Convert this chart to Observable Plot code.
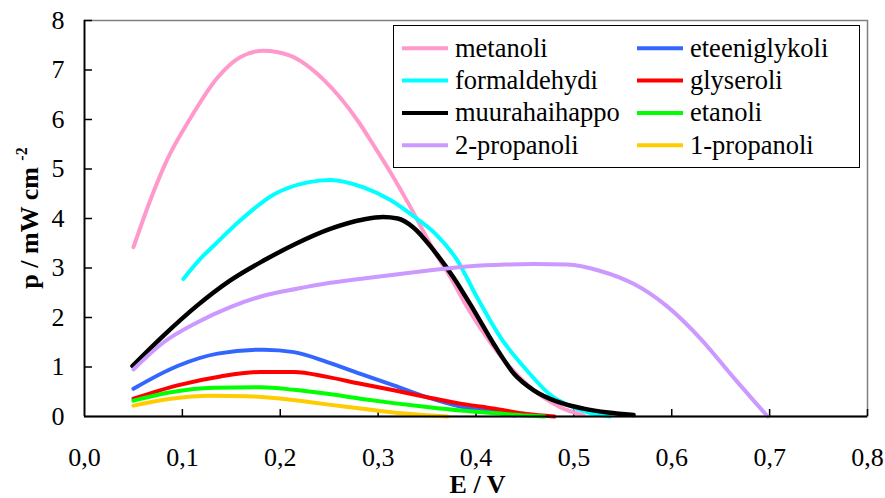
<!DOCTYPE html>
<html>
<head>
<meta charset="utf-8">
<script src="https://cdn.jsdelivr.net/npm/d3@7"></script>
<script src="https://cdn.jsdelivr.net/npm/@observablehq/plot@0.6"></script>
<style>
  html, body { margin: 0; padding: 0; background: #fff; }
  svg text { font-family: 'Liberation Serif', 'Times New Roman', serif; }
</style>
</head>
<body>
<div id="chart"></div>
<script>
// ---- data (E / V, p / mW cm-2) ----
const seriesNames = ["metanoli", "formaldehydi", "muurahaihappo", "2-propanoli",
                     "eteeniglykoli", "glyseroli", "etanoli", "1-propanoli"];
const seriesColors = ["#FF99CC", "#00FFFF", "#000000", "#CC99FF",
                      "#3366FF", "#FF0000", "#00FF00", "#FFCC00"];

const metanoli = [[0.050,3.42],[0.067,4.36],[0.084,5.17],[0.108,6.02],[0.136,6.85],[0.159,7.26],
  [0.183,7.39],[0.210,7.29],[0.245,6.79],[0.279,5.98],[0.296,5.46],[0.313,4.92],
  [0.333,4.23],[0.357,3.35],[0.374,2.81],[0.391,2.21],[0.411,1.60],[0.432,1.06],[0.459,0.53],
  [0.486,0.19],[0.510,0.02]];
const formaldehydi = [[0.101,2.78],[0.119,3.20],[0.132,3.45],[0.159,3.96],[0.193,4.48],[0.228,4.73],
  [0.251,4.78],[0.285,4.63],[0.313,4.37],[0.338,4.02],[0.357,3.72],[0.381,3.15],[0.401,2.41],
  [0.425,1.60],[0.452,0.93],[0.479,0.39],[0.493,0.24],[0.515,0.08],[0.537,0.0]];
const muurahaihappo = [[0.049,1.02],[0.081,1.64],[0.115,2.24],[0.149,2.75],[0.183,3.15],[0.217,3.50],
  [0.251,3.79],[0.285,3.98],[0.305,4.03],[0.320,4.00],[0.336,3.82],[0.357,3.35],[0.377,2.81],
  [0.398,2.14],[0.418,1.47],[0.439,0.86],[0.459,0.53],[0.483,0.30],[0.510,0.16],[0.535,0.08],
  [0.561,0.03]];
const propanoli2 = [[0.050,0.95],[0.081,1.50],[0.115,1.90],[0.149,2.21],[0.183,2.44],[0.217,2.58],
  [0.251,2.70],[0.285,2.79],[0.343,2.93],[0.391,3.03],[0.430,3.07],[0.459,3.08],[0.493,3.07],
  [0.527,2.94],[0.561,2.68],[0.595,2.23],[0.630,1.56],[0.663,0.79],[0.698,0.0]];
const eteeniglykoli = [[0.050,0.56],[0.095,1.02],[0.136,1.27],[0.183,1.35],[0.214,1.30],[0.248,1.10],
  [0.282,0.86],[0.316,0.63],[0.350,0.39],[0.384,0.20],[0.418,0.09],[0.440,0.02]];
const glyseroli = [[0.050,0.36],[0.095,0.63],[0.139,0.81],[0.180,0.90],[0.214,0.90],[0.248,0.80],
  [0.282,0.66],[0.316,0.53],[0.350,0.39],[0.384,0.26],[0.418,0.16],[0.452,0.05],[0.480,0.0]];
const etanoli = [[0.050,0.32],[0.088,0.49],[0.132,0.58],[0.180,0.59],[0.214,0.54],[0.248,0.46],
  [0.282,0.36],[0.316,0.27],[0.350,0.19],[0.384,0.12],[0.418,0.07],[0.452,0.02],[0.470,0.0]];
const propanoli1 = [[0.050,0.22],[0.088,0.36],[0.129,0.42],[0.166,0.41],[0.197,0.37],[0.231,0.29],
  [0.265,0.20],[0.299,0.12],[0.333,0.05],[0.371,0.0]];

const seriesValues = [metanoli, formaldehydi, muurahaihappo, propanoli2,
                      eteeniglykoli, glyseroli, etanoli, propanoli1];

const xTicks = [0, 0.1, 0.2, 0.3, 0.4, 0.5, 0.6, 0.7, 0.8];
const yTicks = [0, 1, 2, 3, 4, 5, 6, 7, 8];
const xTitle = "E / V";
const yTitle = "p / mW cm";
const yTitleSup = "-2";

// ---- table ----
const rows = [];
seriesNames.forEach((name, i) => {
  seriesValues[i].forEach(([E, p]) => rows.push({series: name, E, p}));
});

const W = 885, H = 498;
const mL = 84, mR = 18, mT = 20, mB = 82;
const frameW = W - mL - mR, frameH = H - mT - mB;
const FONT = "'Liberation Serif', 'Times New Roman', serif";

const chart = Plot.plot({
  width: W, height: H,
  marginLeft: mL, marginRight: mR, marginTop: mT, marginBottom: mB,
  style: {fontFamily: FONT, fontSize: "26px", color: "#000", background: "#fff", overflow: "visible"},
  x: {domain: [0, 0.8]},
  y: {domain: [0, 8]},
  color: {domain: seriesNames, range: seriesColors},
  marks: [
    Plot.frame({stroke: "#808080", strokeWidth: 1.5}),
    Plot.axisX({ticks: xTicks, tickSize: 0, tickPadding: 31, label: null,
      tickFormat: d => d.toFixed(1).replace(".", ","), fontSize: 26}),
    Plot.axisY({ticks: yTicks, tickSize: 0, tickPadding: 20, label: null,
      tickFormat: d => String(d), fontSize: 26}),
    Plot.tickX(xTicks.slice(1), {x: d => d, insetTop: frameH - 7, stroke: "#000", strokeWidth: 1.5}),
    Plot.tickY(yTicks.slice(1), {y: d => d, insetRight: frameW - 8, stroke: "#000", strokeWidth: 1.5}),
    Plot.line(rows, {x: "E", y: "p", z: "series", stroke: "series",
      strokeWidth: d => d.series === "muurahaihappo" ? 4.5 : 4, curve: "monotone-x"}),
    Plot.ruleX([0], {stroke: "#000", strokeWidth: 1.8}),
    Plot.ruleY([0], {stroke: "#000", strokeWidth: 1.8})
  ]
});

document.getElementById("chart").appendChild(chart);

const svg = d3.select(chart).attr("font-family", FONT);

// axis titles
svg.append("text")
  .attr("x", mL + frameW / 2 + 2).attr("y", 493)
  .attr("text-anchor", "middle").attr("font-family", FONT)
  .style("font-size", "26px").style("font-weight", "bold")
  .text(xTitle);

const yt = svg.append("text")
  .attr("transform", `translate(38,${mT + frameH / 2}) rotate(-90)`)
  .attr("text-anchor", "middle").attr("font-family", FONT)
  .style("font-size", "26px").style("font-weight", "bold");
yt.append("tspan").text(yTitle + " ");
yt.append("tspan").attr("dy", -11).style("font-size", "16px").text(yTitleSup);

// legend
const lg = svg.append("g");
lg.append("rect").attr("x", 393.5).attr("y", 25.5).attr("width", 466).attr("height", 142)
  .attr("fill", "#fff").attr("stroke", "#000").attr("stroke-width", 1);
seriesNames.forEach((name, i) => {
  const col = i < 4 ? 0 : 1;
  const row = i % 4;
  const x0 = col === 0 ? 402 : 637;
  const yy = 48.3 + row * 32.3;
  lg.append("line").attr("x1", x0).attr("x2", x0 + 46).attr("y1", yy).attr("y2", yy)
    .attr("stroke", seriesColors[i]).attr("stroke-width", 4);
  lg.append("text").attr("x", x0 + 53).attr("y", yy + 8.5)
    .attr("text-anchor", "start").attr("font-family", FONT)
    .style("font-size", "26.5px").text(name);
});
</script>
</body>
</html>
